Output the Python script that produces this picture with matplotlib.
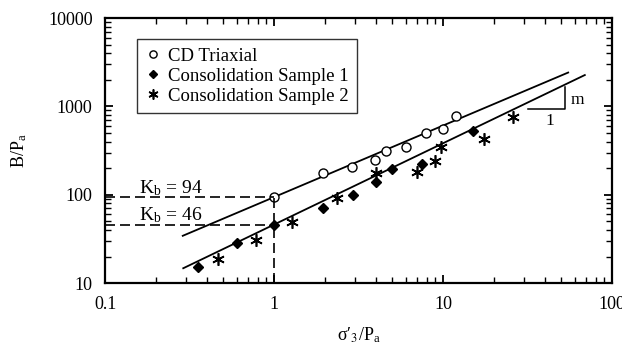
import matplotlib.pyplot as plt
from matplotlib.ticker import LogLocator, NullFormatter
import numpy as np

plt.rcParams['font.family'] = ['Liberation Serif', 'DejaVu Serif']
plt.rcParams['mathtext.fontset'] = 'stix'

# values
cd_x = [1.0, 1.94, 2.91, 3.96, 4.6, 6.04, 7.93, 9.96, 11.9]
cd_y = [94, 175, 207, 247, 313, 350, 495, 550, 778]

s1_x = [0.356, 0.607, 1.0, 1.95, 2.94, 4.02, 4.97, 7.51, 15.1]
s1_y = [15.3, 28.2, 46, 70.6, 99, 140, 196, 225, 520]

s2_x = [0.463, 0.777, 1.27, 2.37, 3.99, 6.98, 8.97, 9.69, 17.4, 25.8]
s2_y = [18.5, 30.7, 49.4, 92.9, 175, 182, 241, 343, 422, 764]

kb = [94, 46]
m_fit = [0.81, 0.92]
fit_x = [[0.288, 55], [0.29, 69]]

fig = plt.figure(figsize=(6.22, 3.53), dpi=100)
ax = fig.add_axes([0.169, 0.198, 0.815, 0.751])
ax.set_xscale('log')
ax.set_yscale('log')
ax.set_xlim(0.1, 100)
ax.set_ylim(10, 10000)

# fitted lines
for k, m, xr in zip(kb, m_fit, fit_x):
    xs = np.array(xr)
    ax.plot(xs, k * xs ** m, color='black', lw=1.3)

ax.plot(cd_x, cd_y, 'o', mfc='white', mec='black', ms=6.5, mew=1.0,
        label='CD Triaxial')
ax.plot(s1_x, s1_y, 'D', color='black', ms=5.5, label='Consolidation Sample 1')
ax.plot(s2_x, s2_y, marker=(6, 2, 0), ls='none', color='black', ms=9, mew=1.2,
        label='Consolidation Sample 2')

# dashed guide lines for K_b
for k in kb:
    ax.plot([0.1, 1], [k, k], color='black', ls=(0, (6, 3)), lw=1.2)
ax.plot([1, 1], [10, kb[0]], color='black', ls=(0, (6, 3)), lw=1.2)
ax.text(0.158, 118, r'K$_\mathregular{b}$ = 94', fontsize=14, va='center')
ax.text(0.158, 58, r'K$_\mathregular{b}$ = 46', fontsize=14, va='center')

# slope triangle
ax.plot([32, 52.7, 52.7], [927, 927, 1640], color='black', lw=1.1)
ax.text(57, 1180, 'm', fontsize=12.5, va='center')
ax.text(43, 680, '1', fontsize=12.5, ha='center', va='center')

ax.set_xticks([0.1, 1, 10, 100])
ax.set_xticklabels(['0.1', '1', '10', '100'])
ax.set_yticks([10, 100, 1000, 10000])
ax.set_yticklabels(['10', '100', '1000', '10000'])
for a in (ax.xaxis, ax.yaxis):
    a.set_minor_locator(LogLocator(base=10, subs=np.arange(2, 10), numticks=20))
    a.set_minor_formatter(NullFormatter())
ax.tick_params(which='both', direction='in', top=True, right=True, labelsize=13)
ax.tick_params(which='major', length=6, width=1.3, pad=9)
ax.tick_params(which='minor', length=4, width=1.0)
for s in ax.spines.values():
    s.set_linewidth(1.6)

ax.set_xlabel('σ\u2032$_3$/P$_\\mathregular{a}$', fontsize=13, labelpad=9)
ax.set_ylabel(r'B/P$_\mathregular{a}$', fontsize=13, labelpad=14)

leg = ax.legend(loc='upper left', bbox_to_anchor=(0.045, 0.955), fontsize=13.5,
                frameon=True, fancybox=False, edgecolor='black',
                handlelength=0.8, handletextpad=0.4, borderpad=0.45,
                labelspacing=0.15, markerscale=0.8)
leg.get_frame().set_linewidth(1.0)

fig.savefig('out.png', dpi=100)
